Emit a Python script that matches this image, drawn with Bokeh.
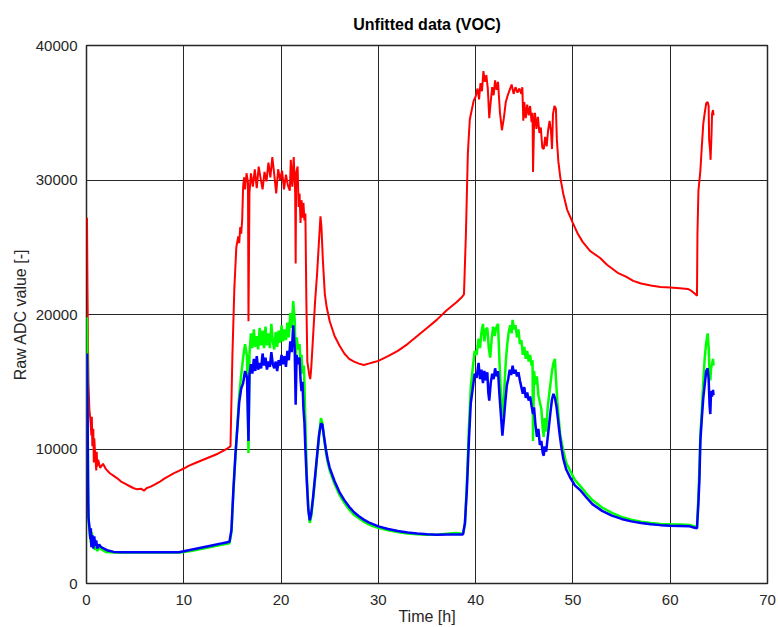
from bokeh.plotting import figure
from bokeh.models import Range1d, FixedTicker, BasicTickFormatter
from bokeh.embed import file_html
from bokeh.resources import INLINE

# ---- data ----
red_t = [0.0, 0.05, 0.1, 0.15, 0.2, 0.3, 0.4, 0.5, 0.55, 0.6, 0.7, 0.75, 0.8, 0.9, 1.0, 1.05, 1.1, 1.2, 1.4, 1.7,
         2.0, 2.4, 2.8, 3.2, 3.6, 4.0, 4.4, 4.8, 5.2, 5.6, 5.9, 6.2, 6.6, 7.0, 7.5, 8.0, 8.5, 9.0, 9.5, 10.0,
         10.5, 11.0, 11.5, 12.0, 12.5, 13.0, 13.5, 14.0, 14.5, 14.7, 14.8, 15.0, 15.2, 15.4, 15.6, 15.7, 15.8, 15.9,
         16.0, 16.1, 16.2, 16.3, 16.45, 16.6, 16.65, 16.75, 16.9, 17.1, 17.3, 17.5, 17.7, 17.9, 18.1, 18.3, 18.5,
         18.7, 18.9, 19.1, 19.3, 19.5, 19.7, 19.9, 20.1, 20.3, 20.5, 20.7, 20.9, 21.0, 21.15, 21.3, 21.45, 21.5,
         21.55, 21.7, 21.8, 21.9, 22.0, 22.1, 22.2, 22.3, 22.4, 22.5, 22.6, 22.7, 22.9, 23.0, 23.1, 23.3, 23.5,
         23.7, 23.9, 24.05, 24.15, 24.3, 24.5, 24.7, 25.0, 25.5, 26.0, 26.5, 27.0, 27.5, 28.0, 28.5, 29.0, 29.5,
         30.0, 31.0, 32.0, 33.0, 34.0, 35.0, 36.0, 37.0, 38.0, 38.6, 38.8, 39.0, 39.2, 39.4, 39.6, 39.8, 40.0,
         40.2, 40.35, 40.5, 40.65, 40.8, 40.95, 41.1, 41.25, 41.4, 41.55, 41.7, 41.85, 42.0, 42.15, 42.3, 42.5,
         42.7, 42.9, 43.1, 43.3, 43.5, 43.7, 43.9, 44.1, 44.3, 44.5, 44.7, 44.8, 44.9, 45.0, 45.15, 45.3, 45.45,
         45.6, 45.75, 45.85, 45.9, 46.0, 46.1, 46.25, 46.4, 46.55, 46.7, 46.85, 47.0, 47.15, 47.3, 47.45, 47.6,
         47.75, 47.85, 47.95, 48.1, 48.25, 48.35, 48.5, 48.7, 49.0, 49.4, 50.0, 50.5, 51.0, 51.8, 52.8, 53.5,
         54.6, 55.5, 56.2, 57.0, 58.0, 59.0, 60.0, 61.0, 61.8, 62.1, 62.6, 62.75, 62.8, 62.9, 63.1, 63.25, 63.4,
         63.55, 63.7, 63.85, 63.95, 64.0, 64.1, 64.15, 64.25, 64.3, 64.4, 64.45]
red_v = [26000, 27200, 22000, 18000, 15000, 12900, 12200, 11000, 12400, 10200, 11500, 9000, 10800, 9500, 8400,
         9800, 8700, 9200, 8600, 8900, 8500, 8200, 8000, 7800, 7550, 7400, 7250, 7100, 7000, 7050, 6900, 7100,
         7200, 7350, 7550, 7800, 8000, 8200, 8380, 8550, 8750, 8900, 9050, 9200, 9350, 9500, 9650, 9850, 10050,
         10150, 10200, 17000, 22000, 25000, 25800, 25300, 26500, 26000, 27000, 29500, 30200, 29300, 30500, 29800,
         19500, 29000, 30500, 29500, 30800, 29400, 31000, 30100, 29300, 30600, 29900, 31300, 30200, 31700, 30400,
         29000, 30800, 30000, 30700, 29300, 30400, 29600, 29200, 31500, 29500, 31700, 29000, 23800, 30500, 31000,
         28000, 29000, 26800, 28500, 27200, 28300, 27000, 27500, 21000, 16500, 15500, 15200, 16000, 18500, 21000,
         23000, 25500, 27300, 26500, 24000, 21500, 20500, 19500, 18400, 17700, 17100, 16700, 16500, 16350, 16250,
         16350, 16450, 16550, 16900, 17300, 17800, 18400, 19000, 19600, 20300, 20900, 21300, 21500, 26000, 32000,
         34500, 35200, 35900, 36200, 36800, 36000, 37200, 36600, 38100, 37300, 37800, 36800, 34600, 35800, 36900,
         36300, 37400, 36700, 37300, 35000, 33700, 34600, 35800, 36300, 36700, 37100, 36400, 36900, 36500, 36800,
         36400, 36900, 34400, 35800, 34600, 35600, 34800, 35500, 34300, 35000, 30600, 34000, 35000, 33800, 34700,
         33500, 33900, 32400, 32300, 33200, 32500, 33700, 34400, 33600, 32300, 34900, 35500, 35300, 33000, 31400,
         30200, 29000, 27800, 26800, 26000, 25400, 24700, 24200, 23700, 23100, 22800, 22500, 22300, 22150, 22050,
         22000, 21950, 21900, 21800, 21500, 21400, 26000, 29200, 30700, 32500, 34200, 35000, 35700, 35800, 35500,
         33000, 32200, 31500, 33500, 34900, 35200, 34800]

green_t = [0.0, 0.04, 0.08, 0.12, 0.18, 0.25, 0.35, 0.45, 0.55, 0.65, 0.75, 0.85, 1.0, 1.1, 1.3, 1.6, 2.0, 2.8,
           4.0, 6.0, 8.0, 9.5, 10.0, 11.0, 12.0, 13.0, 14.0, 14.7, 14.9, 15.1, 15.3, 15.5, 15.7, 15.9, 16.1, 16.3,
           16.5, 16.65, 16.75, 16.9, 17.05, 17.2, 17.35, 17.5, 17.65, 17.8, 17.95, 18.1, 18.25, 18.4, 18.55, 18.7,
           18.85, 19.0, 19.15, 19.3, 19.45, 19.6, 19.75, 19.9, 20.05, 20.2, 20.35, 20.5, 20.65, 20.8, 20.95, 21.1,
           21.25, 21.4, 21.5, 21.6, 21.75, 21.9, 22.0, 22.1, 22.2, 22.35, 22.5, 22.65, 22.8, 22.95, 23.1, 23.3,
           23.5, 23.7, 23.9, 24.1, 24.25, 24.4, 24.6, 24.8, 25.0, 25.5, 26.0, 26.5, 27.0, 27.5, 28.0, 28.5, 29.0,
           29.5, 30.0, 31.0, 32.0, 33.0, 34.0, 35.0, 36.0, 37.0, 38.0, 38.7, 38.9, 39.1, 39.3, 39.5, 39.7, 39.9,
           40.1, 40.3, 40.45, 40.6, 40.75, 40.9, 41.05, 41.2, 41.35, 41.5, 41.65, 41.8, 41.95, 42.1, 42.3, 42.45,
           42.6, 42.8, 42.95, 43.1, 43.25, 43.4, 43.55, 43.7, 43.8, 43.95, 44.1, 44.25, 44.4, 44.55, 44.7, 44.85,
           45.0, 45.15, 45.3, 45.45, 45.6, 45.75, 45.85, 45.9, 46.0, 46.15, 46.3, 46.45, 46.6, 46.75, 46.9, 47.0,
           47.1, 47.25, 47.4, 47.55, 47.7, 47.85, 48.0, 48.15, 48.25, 48.4, 48.55, 48.7, 49.0, 49.3, 49.7, 50.2,
           50.8, 51.5, 52.0, 53.0, 54.0, 55.0, 56.0, 57.0, 58.0, 59.0, 60.0, 61.0, 62.0, 62.5, 62.75, 62.9, 63.0,
           63.1, 63.25, 63.4, 63.55, 63.7, 63.85, 63.95, 64.05, 64.12, 64.2, 64.3, 64.4, 64.45]
green_v = [19000, 19800, 17500, 12000, 6000, 4300, 3600, 3000, 3800, 2700, 3300, 2500, 3000, 2400, 2700, 2500,
           2350, 2300, 2300, 2300, 2300, 2300, 2350, 2450, 2600, 2750, 2900, 3000, 3800, 6800, 9300, 11700, 14000,
           15500, 16800, 17800, 16900, 9700, 17000, 18600, 17500, 18900, 17600, 18400, 17400, 19000, 17700, 18800,
           17500, 19100, 17700, 18600, 17500, 19300, 18000, 17400, 18700, 17600, 18800, 17900, 19200, 18000, 18900,
           18100, 19400, 18300, 20100, 19000, 21000, 19600, 16800, 18300, 17400, 17800, 16500, 17000, 15600, 16200,
           12000, 8000, 5600, 4500, 5000, 6300, 7800, 9400, 11000, 12300, 11900, 10900, 9800, 9000, 8400, 7400,
           6600, 6000, 5500, 5100, 4850, 4600, 4400, 4250, 4150, 3950, 3820, 3720, 3660, 3620, 3620, 3700, 3750,
           3700, 4400, 7500, 11500, 14600, 16000, 17300, 17000, 18200, 17500, 18700, 19300, 18000, 18900, 19000,
           17500, 16800, 18200, 19100, 18400, 19000, 19300, 16500, 14000, 12400, 14500, 16500, 17800, 18700, 19200,
           18600, 19600, 18900, 19200, 18300, 18900, 17800, 18100, 17000, 17600, 16700, 17300, 16500, 17000, 16200,
           16600, 10600, 15800, 14800, 15400, 14000, 13500, 13000, 11500, 10900, 12300, 11300, 13000, 14000, 14900,
           15800, 16400, 16700, 15300, 13500, 12200, 11000, 9900, 9000, 8400, 7700, 7200, 6600, 6200, 5650, 5250,
           4950, 4750, 4600, 4500, 4430, 4400, 4380, 4350, 4250, 4150, 6500, 8500, 11000, 12900, 15000, 16800,
           17900, 18600, 17600, 15500, 15100, 16000, 16300, 16700, 16200]

blue_t = [0.0, 0.05, 0.1, 0.15, 0.2, 0.3, 0.4, 0.45, 0.5, 0.6, 0.7, 0.8, 0.9, 1.0, 1.1, 1.3, 1.5, 1.8, 2.2, 2.8,
          3.5, 5.0, 7.0, 9.0, 9.5, 10.0, 11.0, 12.0, 13.0, 14.0, 14.7, 14.9, 15.1, 15.3, 15.5, 15.7, 15.9, 16.1,
          16.3, 16.5, 16.65, 16.75, 16.9, 17.05, 17.2, 17.35, 17.5, 17.65, 17.8, 17.95, 18.1, 18.25, 18.4, 18.55,
          18.7, 18.85, 19.0, 19.15, 19.3, 19.45, 19.6, 19.75, 19.9, 20.05, 20.2, 20.35, 20.5, 20.65, 20.8, 20.95,
          21.1, 21.25, 21.4, 21.5, 21.6, 21.75, 21.9, 22.0, 22.1, 22.2, 22.3, 22.4, 22.5, 22.65, 22.8, 22.95, 23.1,
          23.3, 23.5, 23.7, 23.9, 24.1, 24.25, 24.4, 24.6, 24.8, 25.0, 25.5, 26.0, 26.5, 27.0, 27.5, 28.0, 28.5,
          29.0, 29.5, 30.0, 31.0, 32.0, 33.0, 34.0, 35.0, 36.0, 37.0, 38.0, 38.7, 38.9, 39.1, 39.3, 39.5, 39.7,
          39.9, 40.1, 40.3, 40.45, 40.6, 40.75, 40.9, 41.05, 41.2, 41.3, 41.4, 41.55, 41.7, 41.85, 42.0, 42.15,
          42.3, 42.45, 42.6, 42.75, 42.9, 43.05, 43.2, 43.35, 43.5, 43.65, 43.8, 43.95, 44.1, 44.25, 44.4, 44.55,
          44.7, 44.85, 45.0, 45.15, 45.3, 45.45, 45.6, 45.75, 45.9, 46.0, 46.15, 46.3, 46.45, 46.6, 46.75, 46.9,
          47.0, 47.1, 47.25, 47.4, 47.55, 47.7, 47.85, 48.0, 48.15, 48.3, 48.45, 48.6, 48.8, 49.0, 49.3, 49.7,
          50.2, 50.8, 51.5, 52.0, 53.0, 54.0, 55.0, 56.0, 57.0, 58.0, 59.0, 60.0, 61.0, 62.0, 62.5, 62.75, 62.9,
          63.0, 63.1, 63.25, 63.4, 63.55, 63.7, 63.85, 63.95, 64.05, 64.12, 64.2, 64.3, 64.4, 64.45]
blue_v = [16500, 17100, 14000, 8000, 4900, 4200, 3300, 4100, 2700, 3600, 2600, 3500, 2800, 3200, 2600, 2900, 2700,
          2600, 2450, 2350, 2320, 2320, 2320, 2320, 2330, 2400, 2550, 2700, 2850, 3000, 3100, 4000, 7000, 9500,
          11500, 13500, 14500, 14900, 15800, 15300, 10600, 15500, 16300, 15600, 16700, 15800, 16900, 15900, 16400,
          16000, 17100, 16200, 16800, 15900, 16500, 16100, 17200, 16300, 16000, 16500, 15800, 16600, 16200, 17000,
          16300, 16900, 16100, 17300, 16600, 18000, 17200, 19200, 17500, 13300, 17000, 16300, 16800, 15200, 14300,
          15000, 13000, 12000, 10000, 7500, 5500, 4700, 5200, 6500, 8000, 9500, 11000, 11900, 11800, 11000, 10000,
          9200, 8600, 7600, 6800, 6200, 5700, 5300, 5000, 4750, 4550, 4400, 4250, 4050, 3900, 3800, 3720, 3660,
          3620, 3650, 3650, 3650, 4500, 7000, 10500, 13400, 14500, 15600, 15300, 16400, 15200, 15900, 14900, 15800,
          15100, 15700, 14200, 13600, 14900, 15600, 15200, 16000, 15400, 15800, 14000, 12500, 11000, 12200, 13500,
          14700, 15200, 15900, 15500, 16200, 15600, 15900, 15400, 15700, 15100, 14600, 14100, 14600, 13800, 14200,
          13600, 13900, 13200, 12600, 13100, 11800, 10900, 11500, 10300, 10600, 9700, 9500, 10200, 9800, 10800,
          11800, 12800, 13700, 14100, 13800, 13200, 12300, 11300, 10200, 9300, 8500, 7900, 7300, 6900, 6300, 5900,
          5400, 5050, 4800, 4620, 4500, 4400, 4340, 4300, 4280, 4250, 4150, 4100, 6000, 7700, 10600, 12300, 13800,
          14800, 15800, 16000, 15200, 13200, 12600, 14300, 13900, 14400, 14000]

x_ticks = [0, 10, 20, 30, 40, 50, 60, 70]
y_ticks = [0, 10000, 20000, 30000, 40000]

FONT = "Liberation Sans"
TXT = "#262626"

p = figure(width=778, height=627, output_backend="svg", toolbar_location=None,
           x_range=Range1d(0, 70), y_range=Range1d(0, 40000),
           min_border_left=86, min_border_right=11, min_border_top=45, min_border_bottom=44,
           title="Unfitted data (VOC)")

p.title.align = "center"
p.title.text_font = FONT
p.title.text_font_size = "16px"
p.title.text_font_style = "bold"
p.title.text_color = "#000000"
p.title.offset = 0
p.title.standoff = 25

p.line(red_t, red_v, line_color="#ff0000", line_width=2)
p.line(green_t, green_v, line_color="#00ff00", line_width=2.5)
p.line(blue_t, blue_v, line_color="#0000ff", line_width=2.5)

p.xaxis.ticker = FixedTicker(ticks=x_ticks)
p.yaxis.ticker = FixedTicker(ticks=y_ticks)
p.yaxis.formatter = BasicTickFormatter(use_scientific=False)

for ax in (p.xaxis[0], p.yaxis[0]):
    ax.axis_line_color = None
    ax.major_tick_line_color = None
    ax.minor_tick_line_color = None
    ax.major_label_text_font = FONT
    ax.major_label_text_font_size = "15px"
    ax.major_label_text_color = TXT
    ax.axis_label_text_font = FONT
    ax.axis_label_text_font_size = "16px"
    ax.axis_label_text_font_style = "normal"
    ax.axis_label_text_color = TXT

p.xaxis.axis_label = "Time [h]"
p.yaxis.axis_label = "Raw ADC value [-]"
p.xaxis.major_label_standoff = 5
p.xaxis.axis_label_standoff = 0
p.yaxis.major_label_standoff = 3
p.yaxis.axis_label_standoff = 4

p.xgrid.ticker = FixedTicker(ticks=x_ticks)
p.ygrid.ticker = FixedTicker(ticks=y_ticks)
p.grid.grid_line_color = "#262626"
p.grid.grid_line_alpha = 1.0
p.grid.grid_line_width = 1

p.outline_line_color = "#262626"
p.outline_line_width = 1.5
p.outline_line_alpha = 1.0
p.background_fill_color = "white"
p.border_fill_color = "white"

open("out.html", "w").write(file_html(p, INLINE))
